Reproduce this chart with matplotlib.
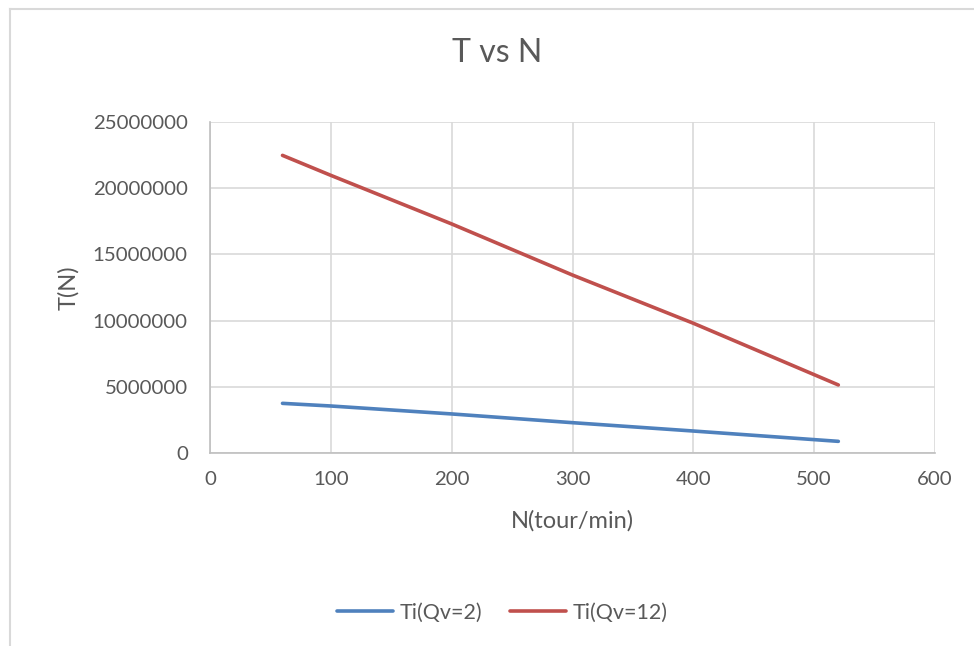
import matplotlib
matplotlib.use("Agg")
import matplotlib.pyplot as plt
from matplotlib.lines import Line2D

N = [60, 100, 200, 300, 400, 520]
T_qv2 = [3750000, 3550000, 2950000, 2290000, 1660000, 880000]
T_qv12 = [22480000, 20970000, 17300000, 13440000, 9800000, 5140000]
series_labels = ["Ti(Qv=2)", "Ti(Qv=12)"]
title = "T vs N"
xlabel = "N(tour/min)"
ylabel = "T(N)"
xticks = [0, 100, 200, 300, 400, 500, 600]
yticks = [0, 5000000, 10000000, 15000000, 20000000, 25000000]

plt.rcParams['font.family'] = ['Lato', 'DejaVu Sans']
txt = '#595959'
W, H = 974, 646
fig = plt.figure(figsize=(W/100, H/100), dpi=100)
ax = fig.add_axes([210/W, 1-453/H, (935-210)/W, (453-122)/H])

ax.plot(N, T_qv2, color='#4F81BD', lw=2.6, solid_capstyle='round', label=series_labels[0])
ax.plot(N, T_qv12, color='#C0504D', lw=2.6, solid_capstyle='round', label=series_labels[1])

ax.set_xlim(0, 600)
ax.set_ylim(0, 25000000)
ax.set_xticks(xticks)
ax.set_yticks(yticks)
ax.set_xticklabels([str(v) for v in xticks])
ax.set_yticklabels([str(v) for v in yticks])
ax.grid(True, color='#d9d9d9', lw=1.2)
ax.set_axisbelow(True)
for s in ['top', 'right']:
    ax.spines[s].set_visible(False)
for s in ['left', 'bottom']:
    ax.spines[s].set_color('#bfbfbf')
    ax.spines[s].set_linewidth(1.2)
ax.tick_params(length=0, labelsize=14.7, labelcolor=txt)
ax.tick_params(axis='y', pad=16)
ax.tick_params(axis='x', pad=13)

ax.set_xlabel(xlabel, fontsize=17, color=txt, labelpad=16)
ax.set_ylabel(ylabel, fontsize=17, color=txt, labelpad=10)
fig.text(497/W, 1-53/H, title, ha='center', va='center', fontsize=23, color=txt)

leg = fig.legend(loc='center', bbox_to_anchor=(502/W, 1-613/H), ncol=2, frameon=False,
                 fontsize=15.5, handlelength=2.6, columnspacing=1.3, handletextpad=0.3)
for t in leg.get_texts():
    t.set_color(txt)

fig.add_artist(Line2D([10/W, 10/W], [0, 1-9/H], transform=fig.transFigure, color='#d9d9d9', lw=1.5))
fig.add_artist(Line2D([10/W, 973/W], [1-9/H, 1-9/H], transform=fig.transFigure, color='#d9d9d9', lw=1.5))

fig.savefig('out.png', dpi=100, facecolor='white')
